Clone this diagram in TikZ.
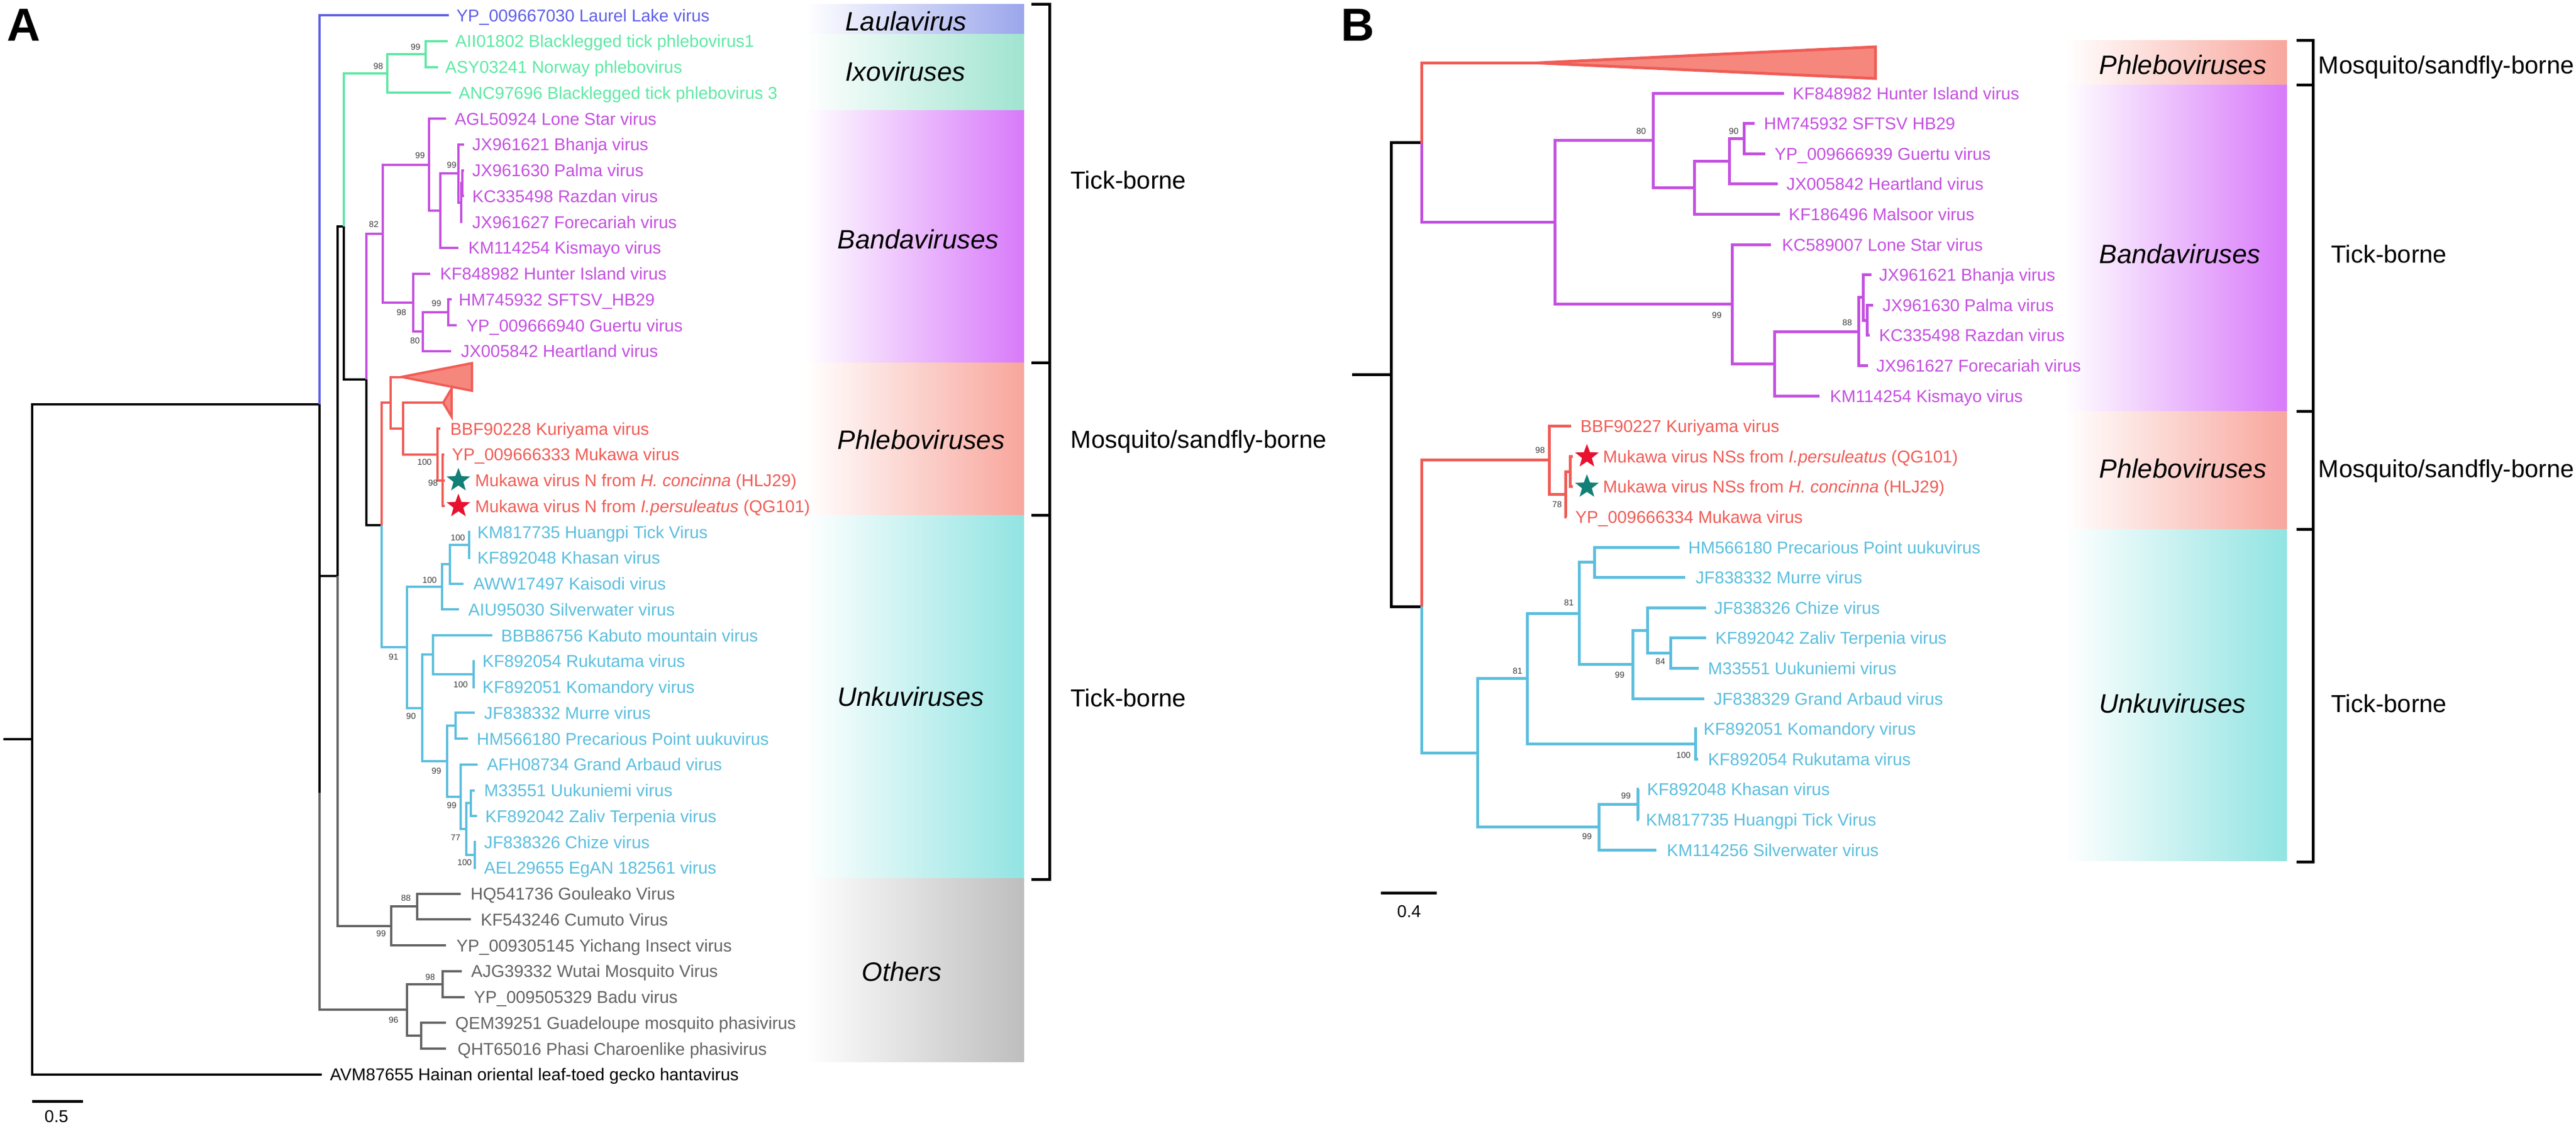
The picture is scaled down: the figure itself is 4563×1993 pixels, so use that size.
\documentclass[tikz,border=0pt]{standalone}
\usepackage{fontspec}
\setmainfont{Liberation Sans}
\usetikzlibrary{shapes.geometric}
\definecolor{cBlue}{RGB}{95,95,232}
\definecolor{cGreen}{RGB}{95,232,165}
\definecolor{cPurple}{RGB}{196,80,224}
\definecolor{cRed}{RGB}{240,92,86}
\definecolor{cTri}{RGB}{245,135,125}
\definecolor{cCyan}{RGB}{92,190,222}
\definecolor{cGray}{RGB}{100,100,100}
\definecolor{cSup}{RGB}{60,60,60}
\definecolor{cTeal}{RGB}{18,128,118}
\definecolor{cStarRed}{RGB}{232,18,48}
\definecolor{bLaula}{RGB}{155,166,236}
\definecolor{bIxo}{RGB}{160,228,208}
\definecolor{bBanda}{RGB}{216,122,250}
\definecolor{bPhlebo}{RGB}{248,166,156}
\definecolor{bUnku}{RGB}{145,228,226}
\definecolor{bOther}{RGB}{190,190,190}
\newcommand\leafsize{\fontsize{8.62pt}{10pt}\selectfont}
\newcommand\supsize{\fontsize{4.3pt}{5pt}\selectfont}
\newcommand\bandsize{\fontsize{13.4pt}{15pt}\selectfont\itshape}
\newcommand\sidesize{\fontsize{12.4pt}{15pt}\selectfont}
\newcommand\panelsize{\fontsize{23.3pt}{26pt}\selectfont\bfseries}
% leaf in panel A: name, colour, parent, tip x, index, text x, text
\newcommand\leafA[7]{%
  \coordinate (#1t) at (#4,{27+45.75*#5});
  \draw[brA,#2] (#3) |- (#1t);
  \node[leaftxt,text=#2] (#1) at (#6,{38+45.75*#5}) {#7};}
\newcommand\leafB[7]{%
  \coordinate (#1t) at (#4,{165+53.6*#5});
  \draw[brB,#2] (#3) |- (#1t);
  \node[leaftxt,text=#2] (#1) at (#6,{176+53.6*#5}) {#7};}
\begin{document}
\begin{tikzpicture}[x=0.01cm,y=-0.01cm,
  brA/.style={line width=0.04cm},
  brB/.style={line width=0.05cm},
  brk/.style={line width=0.05cm},
  leaftxt/.style={anchor=base west,inner sep=0pt,font=\leafsize},
  suplab/.style={inner sep=0pt,font=\supsize,text=cSup},
  bandtxt/.style={anchor=base west,inner sep=0pt,font=\bandsize},
  sidetxt/.style={anchor=base west,inner sep=0pt,font=\sidesize},
  starnode/.style={star,star points=5,star point ratio=2.4,minimum size=0.44cm,inner sep=0pt,draw=none}]
\useasboundingbox (0,0) rectangle (4563,1993);
\fill[white] (0,0) rectangle (4563,1993);

% ---------------- bands A
\shade[left color=white,right color=bLaula] (1426,7) rectangle (1814,60);
\shade[left color=white,right color=bIxo] (1426,60) rectangle (1814,195);
\shade[left color=white,right color=bBanda] (1426,195) rectangle (1814,642);
\shade[left color=white,right color=bPhlebo] (1426,642) rectangle (1814,912);
\shade[left color=white,right color=bUnku] (1426,912) rectangle (1814,1555);
\shade[left color=white,right color=bOther] (1426,1555) rectangle (1814,1880);
\node[bandtxt] (tLaula) at (1497,54) {Laulavirus};
\node[bandtxt] (tIxo) at (1497,143) {Ixoviruses};
\node[bandtxt] (tBandaA) at (1483,440) {Bandaviruses};
\node[bandtxt] (tPhleboA) at (1483,795) {Phleboviruses};
\node[bandtxt] (tUnkuA) at (1483,1250) {Unkuviruses};
\node[bandtxt] (tOthers) at (1526,1737) {Others};
\draw[brk] (1827,7) -- (1859,7) -- (1859,1557) -- (1827,1557);
\draw[brk] (1827,642) -- (1859,642);
\draw[brk] (1827,912) -- (1859,912);
\node[sidetxt] (sA1) at (1896,334) {Tick-borne};
\node[sidetxt] (sA2) at (1896,793) {Mosquito/sandfly-borne};
\node[sidetxt] (sA3) at (1896,1251) {Tick-borne};

% ---------------- bands B
\shade[left color=white,right color=bPhlebo] (3656,71) rectangle (4051,150);
\shade[left color=white,right color=bBanda] (3656,150) rectangle (4051,728);
\shade[left color=white,right color=bPhlebo] (3656,728) rectangle (4051,937);
\shade[left color=white,right color=bUnku] (3656,937) rectangle (4051,1524);
\node[bandtxt] (tPhleboB1) at (3718,131) {Phleboviruses};
\node[bandtxt] (tBandaB) at (3718,466) {Bandaviruses};
\node[bandtxt] (tPhleboB2) at (3718,846) {Phleboviruses};
\node[bandtxt] (tUnkuB) at (3718,1262) {Unkuviruses};
\draw[brk] (4068,71) -- (4097,71) -- (4097,1526) -- (4068,1526);
\draw[brk] (4068,150) -- (4097,150);
\draw[brk] (4068,728) -- (4097,728);
\draw[brk] (4068,937) -- (4097,937);
\node[sidetxt] (sB1) at (4106,130) {Mosquito/sandfly-borne};
\node[sidetxt] (sB2) at (4129,465) {Tick-borne};
\node[sidetxt] (sB3) at (4106,845) {Mosquito/sandfly-borne};
\node[sidetxt] (sB4) at (4129,1261) {Tick-borne};

% ---------------- panel labels
\node[anchor=base west,inner sep=0pt,font=\panelsize] (pA) at (12,72) {A};
\node[anchor=base west,inner sep=0pt,font=\panelsize] (pB) at (2375,72) {B};

% ================= TREE A
\coordinate (rootA) at (57,1309.2);
\coordinate (stubA) at (6,1309.2);
\coordinate (N1) at (566,715.7);
\coordinate (N2) at (566,1404.4);
\coordinate (N3) at (598,1020.3);
\coordinate (N4) at (609,400.9);
\coordinate (N5) at (649,671.8);
\coordinate (N6) at (676,929.8);
\coordinate (G1) at (686,129.9);
\coordinate (G2) at (754,95.6);
\coordinate (B0) at (678,413.7);
\coordinate (U1) at (760,291.5);
\coordinate (U2) at (780,373);
\coordinate (U3) at (812,307.2);
\coordinate (U4) at (817,358.7);
\coordinate (U5) at (819,324.4);
\coordinate (L1) at (732,536);
\coordinate (L2) at (749,587.4);
\coordinate (L3) at (794,553.1);
\coordinate (P0) at (692,713.25);
\coordinate (P1) at (714,759);
\coordinate (P2) at (775,804.75);
\coordinate (P3) at (784,850.5);
\coordinate (TbA) at (711,667.5);
\coordinate (TsA) at (785,713.25);
\coordinate (K0) at (721,1146.4);
\coordinate (K1) at (783,1039.2);
\coordinate (K3) at (797,999.2);
\coordinate (K4) at (831,964.9);
\coordinate (K2) at (748,1253.7);
\coordinate (K5) at (767,1159.3);
\coordinate (K6) at (839,1193.6);
\coordinate (K7) at (792,1348);
\coordinate (K8) at (807,1285.1);
\coordinate (K9) at (816,1410.9);
\coordinate (K10) at (826,1468.1);
\coordinate (K11) at (834,1422.4);
\coordinate (K12) at (841,1513.9);
\coordinate (O1) at (693,1639.7);
\coordinate (O2) at (739,1605.4);
\coordinate (O3) at (721,1788.4);
\coordinate (O4) at (784,1742.6);
\coordinate (O5) at (746,1834.1);

\draw[brA] (rootA) -- (stubA);
\draw[brA] (rootA) |- (N1);
\draw[brA] (N1) |- (N2);
\draw[brA] (N2) |- (N3);
\draw[brA] (N3) |- (N4);
\draw[brA] (N4) |- (N5);
\draw[brA] (N5) |- (N6);
\draw[brA,cGreen] (N4) |- (G1);
\draw[brA,cGreen] (G1) |- (G2);
\draw[brA,cPurple] (N5) |- (B0);
\draw[brA,cPurple] (B0) |- (U1);
\draw[brA,cPurple] (U1) |- (U2);
\draw[brA,cPurple] (U2) |- (U3);
\draw[brA,cPurple] (U3) |- (U4);
\draw[brA,cPurple] (U4) |- (U5);
\draw[brA,cPurple] (B0) |- (L1);
\draw[brA,cPurple] (L1) |- (L2);
\draw[brA,cPurple] (L2) |- (L3);
\draw[brA,cRed] (N6) |- (P0);
\draw[brA,cRed] (P0) |- (TbA);
\draw[brA,cRed] (P0) |- (P1);
\draw[brA,cRed] (P1) |- (TsA);
\draw[brA,cRed] (P1) |- (P2);
\draw[brA,cRed] (P2) |- (P3);
\filldraw[cRed,fill=cTri,line width=0.04cm,line join=miter] (TbA) -- (836,643) -- (836,692) -- cycle;
\filldraw[cRed,fill=cTri,line width=0.04cm,line join=miter] (TsA) -- (800,688) -- (800,738) -- cycle;
\draw[brA,cCyan] (N6) |- (K0);
\draw[brA,cCyan] (K0) |- (K1);
\draw[brA,cCyan] (K1) |- (K3);
\draw[brA,cCyan] (K3) |- (K4);
\draw[brA,cCyan] (K0) |- (K2);
\draw[brA,cCyan] (K2) |- (K5);
\draw[brA,cCyan] (K5) |- (K6);
\draw[brA,cCyan] (K2) |- (K7);
\draw[brA,cCyan] (K7) |- (K8);
\draw[brA,cCyan] (K7) |- (K9);
\draw[brA,cCyan] (K9) |- (K10);
\draw[brA,cCyan] (K10) |- (K11);
\draw[brA,cCyan] (K10) |- (K12);
\draw[brA,cGray] (N3) |- (O1);
\draw[brA,cGray] (O1) |- (O2);
\draw[brA,cGray] (N2) |- (O3);
\draw[brA,cGray] (O3) |- (O4);
\draw[brA,cGray] (O3) |- (O5);

\leafA{a0}{cBlue}{N1}{795}{0}{808}{YP\_009667030 Laurel Lake virus}
\leafA{a1}{cGreen}{G2}{793}{1}{806}{AII01802 Blacklegged tick phlebovirus1}
\leafA{a2}{cGreen}{G2}{776}{2}{788}{ASY03241 Norway phlebovirus}
\leafA{a3}{cGreen}{G1}{799}{3}{812}{ANC97696 Blacklegged tick phlebovirus 3}
\leafA{a4}{cPurple}{U1}{790}{4}{805}{AGL50924 Lone Star virus}
\leafA{a5}{cPurple}{U3}{822}{5}{836}{JX961621 Bhanja virus}
\leafA{a6}{cPurple}{U5}{822}{6}{836}{JX961630 Palma virus}
\leafA{a7}{cPurple}{U5}{822}{7}{836}{KC335498 Razdan virus}
\leafA{a8}{cPurple}{U4}{819}{8}{836}{JX961627 Forecariah virus}
\leafA{a9}{cPurple}{U2}{812}{9}{829}{KM114254 Kismayo virus}
\leafA{a10}{cPurple}{L1}{762}{10}{779}{KF848982 Hunter Island virus}
\leafA{a11}{cPurple}{L3}{800}{11}{812}{HM745932 SFTSV\_HB29}
\leafA{a12}{cPurple}{L3}{809}{12}{826}{YP\_009666940 Guertu virus}
\leafA{a13}{cPurple}{L2}{799}{13}{816}{JX005842 Heartland virus}
\leafA{a16}{cRed}{P2}{780}{16}{797}{BBF90228 Kuriyama virus}
\leafA{a17}{cRed}{P3}{787}{17}{800}{YP\_009666333 Mukawa virus}
\leafA{a18}{cRed}{P3}{788}{18}{841}{Mukawa virus N from \textit{H. concinna} (HLJ29)}
\leafA{a19}{cRed}{P3}{788}{19}{841}{Mukawa virus N from \textit{I.persuleatus} (QG101)}
\node[starnode,fill=cTeal] (starA1) at (812,{27+45.75*18}) {};
\node[starnode,fill=cStarRed] (starA2) at (812,{27+45.75*19}) {};
\leafA{a20}{cCyan}{K4}{833}{20}{845}{KM817735 Huangpi Tick Virus}
\leafA{a21}{cCyan}{K4}{833}{21}{845}{KF892048 Khasan virus}
\leafA{a22}{cCyan}{K3}{821}{22}{838}{AWW17497 Kaisodi virus}
\leafA{a23}{cCyan}{K1}{813}{23}{829}{AIU95030 Silverwater virus}
\leafA{a24}{cCyan}{K5}{872}{24}{887}{BBB86756 Kabuto mountain virus}
\leafA{a25}{cCyan}{K6}{841}{25}{854}{KF892054 Rukutama virus}
\leafA{a26}{cCyan}{K6}{841}{26}{854}{KF892051 Komandory virus}
\leafA{a27}{cCyan}{K8}{841}{27}{857}{JF838332 Murre virus}
\leafA{a28}{cCyan}{K8}{829}{28}{844}{HM566180 Precarious Point uukuvirus}
\leafA{a29}{cCyan}{K9}{846}{29}{862}{AFH08734 Grand Arbaud virus}
\leafA{a30}{cCyan}{K11}{841}{30}{857}{M33551 Uukuniemi virus}
\leafA{a31}{cCyan}{K11}{845}{31}{859}{KF892042 Zaliv Terpenia virus}
\leafA{a32}{cCyan}{K12}{843}{32}{857}{JF838326 Chize virus}
\leafA{a33}{cCyan}{K12}{843}{33}{857}{AEL29655 EgAN 182561 virus}
\leafA{a34}{cGray}{O2}{816}{34}{833}{HQ541736 Gouleako Virus}
\leafA{a35}{cGray}{O2}{834}{35}{851}{KF543246 Cumuto Virus}
\leafA{a36}{cGray}{O1}{790}{36}{808}{YP\_009305145 Yichang Insect virus}
\leafA{a37}{cGray}{O4}{818}{37}{834}{AJG39332 Wutai Mosquito Virus}
\leafA{a38}{cGray}{O4}{823}{38}{839}{YP\_009505329 Badu virus}
\leafA{a39}{cGray}{O5}{790}{39}{806}{QEM39251 Guadeloupe mosquito phasivirus}
\leafA{a40}{cGray}{O5}{790}{40}{810}{QHT65016 Phasi Charoenlike phasivirus}
\leafA{a41}{black}{rootA}{570}{41}{584}{AVM87655 Hainan oriental leaf-toed gecko hantavirus}

% support values A
\node[suplab] (vA1) at (670,117) {98};
\node[suplab] (vA2) at (736,83) {99};
\node[suplab] (vA3) at (744,275) {99};
\node[suplab] (vA4) at (800,292) {99};
\node[suplab] (vA5) at (662,397) {82};
\node[suplab] (vA6) at (711,553) {98};
\node[suplab] (vA7) at (735,603) {80};
\node[suplab] (vA8) at (773,537) {99};
\node[suplab] (vA9) at (752,818) {100};
\node[suplab] (vA10) at (767,855) {98};
\node[suplab] (vA11) at (811,952) {100};
\node[suplab] (vA12) at (761,1027) {100};
\node[suplab] (vA13) at (697,1163) {91};
\node[suplab] (vA14) at (816,1212) {100};
\node[suplab] (vA15) at (728,1268) {90};
\node[suplab] (vA16) at (773,1365) {99};
\node[suplab] (vA17) at (800,1426) {99};
\node[suplab] (vA18) at (807,1483) {77};
\node[suplab] (vA19) at (823,1527) {100};
\node[suplab] (vA20) at (675,1653) {99};
\node[suplab] (vA21) at (719,1590) {88};
\node[suplab] (vA22) at (697,1806) {96};
\node[suplab] (vA23) at (762,1730) {98};

% scale bar A
\coordinate (sbA1) at (57,1950);
\coordinate (sbA2) at (147,1950);
\draw[brk] (sbA1) -- (sbA2);
\node[inner sep=0pt,font=\leafsize] (sbAt) at (100,1977) {0.5};

% ================= TREE B
\coordinate (rootB) at (2464,663.3);
\coordinate (stubB) at (2395,663.3);
\coordinate (R) at (2518,252.5);
\coordinate (R2) at (2518,1074.1);
\coordinate (TB) at (2722,111.4);
\coordinate (Bd0) at (2754,393.6);
\coordinate (Bd1) at (2928,248.8);
\coordinate (Bd3) at (3001,332.5);
\coordinate (Bd4) at (3063,285.6);
\coordinate (Bd5) at (3089,245.4);
\coordinate (Bd2) at (3068,538.5);
\coordinate (Bd6) at (3143,644);
\coordinate (Bd7) at (3292,587.1);
\coordinate (Bd8) at (3300,526.8);
\coordinate (Bd9) at (3307,567);
\coordinate (Pb1) at (2744,814.9);
\coordinate (Pb2) at (2773,875.2);
\coordinate (Pb3) at (2781,835);
\coordinate (Ck0) at (2617,1333.4);
\coordinate (Ck1) at (2705,1201.9);
\coordinate (Ck3) at (2797,1086.3);
\coordinate (Ck5) at (2824,995.8);
\coordinate (Ck6) at (2892,1176.7);
\coordinate (Ck7) at (2918,1116.4);
\coordinate (Ck8) at (2959,1156.6);
\coordinate (Ck4) at (3003,1317.4);
\coordinate (Ck2) at (2832,1464.8);
\coordinate (Ck9) at (2901,1424.6);

\draw[brB] (rootB) -- (stubB);
\draw[brB] (rootB) |- (R);
\draw[brB] (rootB) |- (R2);
\draw[brB,cRed] (R) |- (TB);
\filldraw[cRed,fill=cTri,line width=0.05cm,line join=miter] (TB) -- (3322,83) -- (3322,139) -- cycle;
\draw[brB,cPurple] (R) |- (Bd0);
\draw[brB,cPurple] (Bd0) |- (Bd1);
\draw[brB,cPurple] (Bd1) |- (Bd3);
\draw[brB,cPurple] (Bd3) |- (Bd4);
\draw[brB,cPurple] (Bd4) |- (Bd5);
\draw[brB,cPurple] (Bd0) |- (Bd2);
\draw[brB,cPurple] (Bd2) |- (Bd6);
\draw[brB,cPurple] (Bd6) |- (Bd7);
\draw[brB,cPurple] (Bd7) |- (Bd8);
\draw[brB,cPurple] (Bd8) |- (Bd9);
\draw[brB,cRed] (R2) |- (Pb1);
\draw[brB,cRed] (Pb1) |- (Pb2);
\draw[brB,cRed] (Pb2) |- (Pb3);
\draw[brB,cCyan] (R2) |- (Ck0);
\draw[brB,cCyan] (Ck0) |- (Ck1);
\draw[brB,cCyan] (Ck1) |- (Ck3);
\draw[brB,cCyan] (Ck3) |- (Ck5);
\draw[brB,cCyan] (Ck3) |- (Ck6);
\draw[brB,cCyan] (Ck6) |- (Ck7);
\draw[brB,cCyan] (Ck7) |- (Ck8);
\draw[brB,cCyan] (Ck1) |- (Ck4);
\draw[brB,cCyan] (Ck0) |- (Ck2);
\draw[brB,cCyan] (Ck2) |- (Ck9);

\leafB{b0}{cPurple}{Bd1}{3160}{0}{3175}{KF848982 Hunter Island virus}
\leafB{b1}{cPurple}{Bd5}{3108}{1}{3124}{HM745932 SFTSV HB29}
\leafB{b2}{cPurple}{Bd5}{3127}{2}{3143}{YP\_009666939 Guertu virus}
\leafB{b3}{cPurple}{Bd4}{3149}{3}{3164}{JX005842 Heartland virus}
\leafB{b4}{cPurple}{Bd3}{3153}{4}{3168}{KF186496 Malsoor virus}
\leafB{b5}{cPurple}{Bd2}{3137}{5}{3156}{KC589007 Lone Star virus}
\leafB{b6}{cPurple}{Bd8}{3315}{6}{3328}{JX961621 Bhanja virus}
\leafB{b7}{cPurple}{Bd9}{3318}{7}{3334}{JX961630 Palma virus}
\leafB{b8}{cPurple}{Bd9}{3312}{8}{3328}{KC335498 Razdan virus}
\leafB{b9}{cPurple}{Bd7}{3309}{9}{3323}{JX961627 Forecariah virus}
\leafB{b10}{cPurple}{Bd6}{3223}{10}{3241}{KM114254 Kismayo virus}
\leafB{b11}{cRed}{Pb1}{2783}{11}{2799}{BBF90227 Kuriyama virus}
\leafB{b12}{cRed}{Pb3}{2786}{12}{2839}{Mukawa virus NSs from \textit{I.persuleatus} (QG101)}
\leafB{b13}{cRed}{Pb3}{2786}{13}{2839}{Mukawa virus NSs from \textit{H. concinna} (HLJ29)}
\node[starnode,fill=cStarRed] (starB1) at (2811,{165+53.6*12}) {};
\node[starnode,fill=cTeal] (starB2) at (2811,{165+53.6*13}) {};
\leafB{b14}{cRed}{Pb2}{2775}{14}{2790}{YP\_009666334 Mukawa virus}
\leafB{b15}{cCyan}{Ck5}{2975}{15}{2990}{HM566180 Precarious Point uukuvirus}
\leafB{b16}{cCyan}{Ck5}{2985}{16}{3003}{JF838332 Murre virus}
\leafB{b17}{cCyan}{Ck7}{3022}{17}{3036}{JF838326 Chize virus}
\leafB{b18}{cCyan}{Ck8}{3022}{18}{3038}{KF892042 Zaliv Terpenia virus}
\leafB{b19}{cCyan}{Ck8}{3009}{19}{3025}{M33551 Uukuniemi virus}
\leafB{b20}{cCyan}{Ck6}{3019}{20}{3035}{JF838329 Grand Arbaud virus}
\leafB{b21}{cCyan}{Ck4}{3006}{21}{3017}{KF892051 Komandory virus}
\leafB{b22}{cCyan}{Ck4}{3008}{22}{3025}{KF892054 Rukutama virus}
\leafB{b23}{cCyan}{Ck9}{2903}{23}{2917}{KF892048 Khasan virus}
\leafB{b24}{cCyan}{Ck9}{2903}{24}{2915}{KM817735 Huangpi Tick Virus}
\leafB{b25}{cCyan}{Ck2}{2934}{25}{2952}{KM114256 Silverwater virus}

% support values B
\node[suplab] (vB1) at (2907,232) {80};
\node[suplab] (vB2) at (3071,232) {90};
\node[suplab] (vB3) at (3041,558) {99};
\node[suplab] (vB4) at (3272,571) {88};
\node[suplab] (vB5) at (2728,797) {98};
\node[suplab] (vB6) at (2758,893) {78};
\node[suplab] (vB7) at (2779,1067) {81};
\node[suplab] (vB8) at (2688,1188) {81};
\node[suplab] (vB9) at (2869,1195) {99};
\node[suplab] (vB10) at (2941,1171) {84};
\node[suplab] (vB11) at (2982,1337) {100};
\node[suplab] (vB12) at (2880,1409) {99};
\node[suplab] (vB13) at (2811,1481) {99};

% scale bar B
\coordinate (sbB1) at (2446,1581);
\coordinate (sbB2) at (2545,1581);
\draw[brk] (sbB1) -- (sbB2);
\node[inner sep=0pt,font=\leafsize] (sbBt) at (2496,1614) {0.4};
\end{tikzpicture}
\end{document}
